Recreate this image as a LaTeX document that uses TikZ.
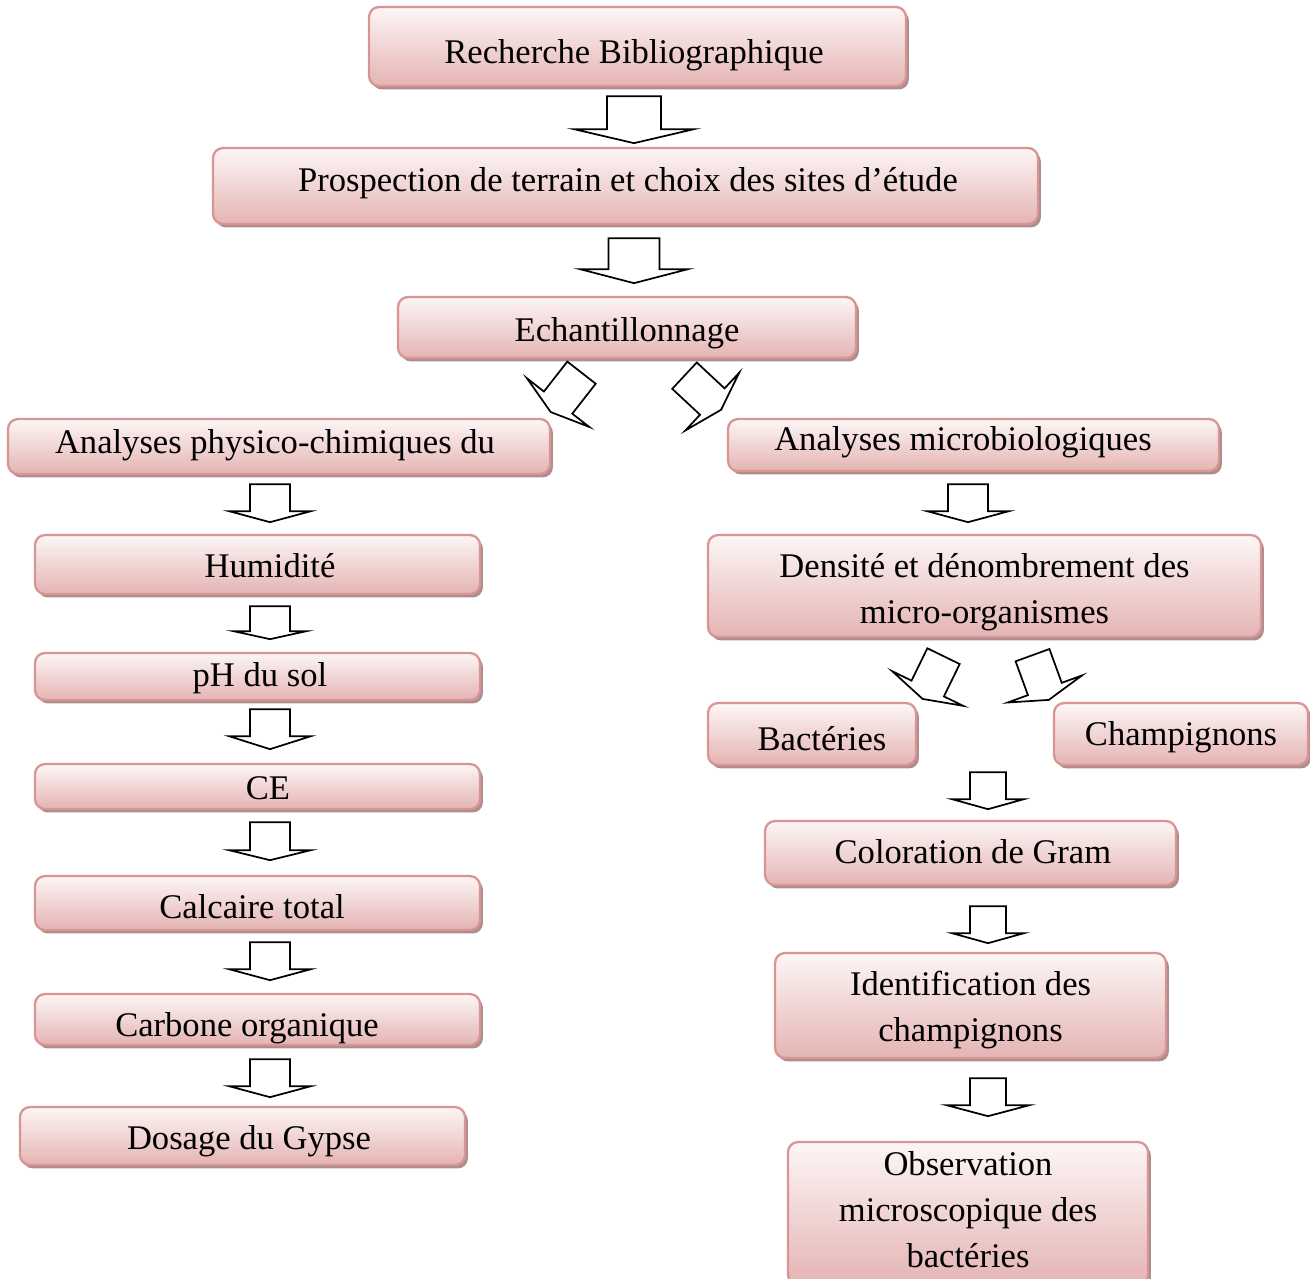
\documentclass[tikz,border=0pt]{standalone}
\usepackage{fontspec}
\setmainfont{Liberation Serif}
\usetikzlibrary{shadows,calc}
\definecolor{boxline}{RGB}{217,149,148}
\definecolor{boxtop}{RGB}{253,246,246}
\definecolor{boxbottom}{RGB}{228,180,179}
\definecolor{boxshadow}{RGB}{172,142,142}
\def\pxu{0.347pt}
\tikzstyle{block} = [rectangle, draw=boxline, line width=0.8pt, rounded corners=3.5pt,
top color=boxtop, bottom color=boxbottom, align=center, inner sep=0pt,
drop shadow={shadow xshift=1pt, shadow yshift=-1.2pt, fill=boxshadow, opacity=1},
font=\fontsize{12}{16}\selectfont]
\tikzset{
  boxsize/.style 2 args={minimum width=#1*\pxu, minimum height=#2*\pxu},
  % text offset: horizontal space, text height, text depth
  textpos/.style n args={3}{text height=#2, text depth=#3, execute at begin node={\hspace*{#1}}},
  arrowsize/.code n args={4}{\def\shaftw{#1}\def\shaftl{#2}\def\headw{#3}\def\headl{#4}},
  blockarrow/.pic={
    \draw [black, line width=0.6pt, fill=white, line join=miter]
      (-\shaftw,0) -- (\shaftw,0) -- (\shaftw,\shaftl) -- (\headw,\shaftl)
      -- (0,\shaftl+\headl) -- (-\headw,\shaftl) -- (-\shaftw,\shaftl) -- cycle;
  }
}
\begin{document}
\begin{tikzpicture}[x=0.347pt, y=-0.347pt]
\useasboundingbox (0,0) rectangle (1310,1278);
\clip (0,0) rectangle (1310,1278);
% Place nodes
\node [block, boxsize={537}{79}, textpos={-2.4pt}{14.6pt}{2.8pt}] (bib) at (637.5,46.5) {Recherche Bibliographique};
\node [block, boxsize={825}{76}, textpos={1.7pt}{8.7pt}{4.9pt}] (prosp) at (625.5,186) {Prospection de terrain et choix des sites d’étude};
\node [block, boxsize={458}{61}, textpos={0pt}{12.5pt}{2.8pt}] (ech) at (627,327.5) {Echantillonnage};
\node [block, boxsize={542}{55}, textpos={-2.8pt}{8.7pt}{3.8pt}] (phys) at (279,446.5) {Analyses physico-chimiques du};
\node [block, boxsize={491}{52}, textpos={-7.3pt}{8.7pt}{4.9pt}] (micro) at (973.5,445) {Analyses microbiologiques};
\node [block, boxsize={445}{59}, textpos={8.7pt}{11.8pt}{2.8pt}] (hum) at (257.5,564.5) {Humidité};
\node [block, boxsize={445}{47}, textpos={1.7pt}{9.7pt}{2.8pt}] (ph) at (257.5,676.5) {pH du sol};
\node [block, boxsize={445}{45}, textpos={7.3pt}{11.8pt}{2.8pt}] (ce) at (257.5,786.5) {CE};
\node [block, boxsize={445}{54}, textpos={-3.8pt}{13.5pt}{2.8pt}] (calc) at (257.5,903) {Calcaire total};
\node [block, boxsize={445}{51}, textpos={-7.3pt}{14.6pt}{2.8pt}] (carb) at (257.5,1019.5) {Carbone organique};
\node [block, boxsize={445}{58}, textpos={4.5pt}{12.2pt}{2.8pt}] (gyps) at (242.5,1136) {Dosage du Gypse};
\node [block, boxsize={553}{102}] (dens) at (984.5,586) {\rule{0pt}{12.5pt}Densité et dénombrement des\\micro-organismes};
\node [block, boxsize={208}{62}, textpos={6.9pt}{14.2pt}{2.8pt}] (bact) at (812,734) {Bactéries};
\node [block, boxsize={254}{62}, textpos={0pt}{10.8pt}{2.8pt}] (champ) at (1181,734) {Champignons};
\node [block, boxsize={411}{64}, textpos={1.7pt}{10.1pt}{2.8pt}] (gram) at (970.5,853) {Coloration de Gram};
\node [block, boxsize={391}{105}] (ident) at (970.5,1005.5) {\rule{0pt}{11.8pt}Identification des\\champignons};
\node [block, boxsize={360}{143}] (obs) at (968,1213.5) {Observation\\microscopique des\\bactéries\rule[-2.6pt]{0pt}{0pt}};
% Draw edges
\pic [arrowsize={27}{33}{60}{14}] at ($(bib.south)+(-3.5,9)$) {blockarrow};
\pic [arrowsize={25.5}{31}{54}{14}] at ($(prosp.south)+(8.5,13)$) {blockarrow};
\pic [rotate=-38, arrowsize={18}{38}{39.5}{12}] at ($(ech.south)+(-45.5,13.5)$) {blockarrow};
\pic [rotate=47, arrowsize={18}{38}{39.5}{12}] at ($(ech.south)+(57.5,16.5)$) {blockarrow};
\pic [arrowsize={20}{27}{41}{11}] at ($(phys.south)+(-9,9)$) {blockarrow};
\pic [arrowsize={20}{25}{36.5}{8}] at ($(hum.south)+(12.5,11)$) {blockarrow};
\pic [arrowsize={20}{27}{41}{13}] at ($(ph.south)+(12.5,8)$) {blockarrow};
\pic [arrowsize={20}{28}{41}{10}] at ($(ce.south)+(12.5,12)$) {blockarrow};
\pic [arrowsize={20}{27}{41}{11}] at ($(calc.south)+(12.5,11)$) {blockarrow};
\pic [arrowsize={20}{27}{41}{11}] at ($(carb.south)+(12.5,13)$) {blockarrow};
\pic [arrowsize={20}{27}{41}{11}] at ($(micro.south)+(-5.5,12)$) {blockarrow};
\pic [rotate=-26, arrowsize={18}{36}{39.5}{11.6}] at ($(dens.south)+(-41,18)$) {blockarrow};
\pic [rotate=20, arrowsize={18}{36}{39.5}{11.6}] at ($(dens.south)+(48,17)$) {blockarrow};
\pic [arrowsize={18}{27}{36}{10}] at ($(bact.south east)!.5!(champ.south west)+(3,6)$) {blockarrow};
\pic [arrowsize={18}{27}{36}{10}] at ($(gram.south)+(17.5,20)$) {blockarrow};
\pic [arrowsize={18}{27}{41.5}{11}] at ($(ident.south)+(17.5,19)$) {blockarrow};
\end{tikzpicture}
\end{document}
